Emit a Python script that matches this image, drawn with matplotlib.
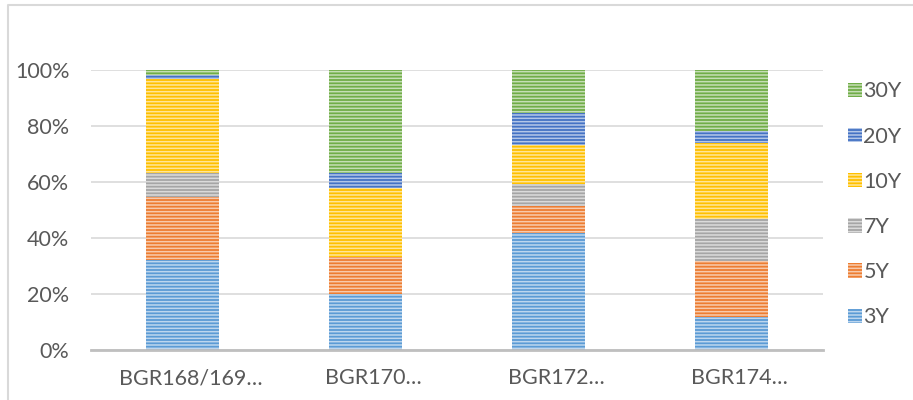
import numpy as np
import matplotlib
matplotlib.use("Agg")
from matplotlib import pyplot as plt
from matplotlib import transforms
from matplotlib.lines import Line2D

plt.rcParams["font.family"] = ["Lato", "DejaVu Sans"]
plt.rcParams["hatch.linewidth"] = 1.1

categories = ["BGR168/169…", "BGR170…", "BGR172…", "BGR174…"]
series = ["3Y", "5Y", "7Y", "10Y", "20Y", "30Y"]
colors = ["#5B9BD5", "#ED7D31", "#A5A5A5", "#FFC000", "#4472C4", "#70AD47"]

# share of each maturity per issue, in percent
y3 = [32.1, 19.9, 41.7, 11.7]
y5 = [22.5, 13.2, 9.7, 20.1]
y7 = [8.6, 0.0, 7.8, 15.1]
y10 = [33.6, 24.6, 14.0, 26.9]
y20 = [1.4, 5.6, 11.3, 4.5]
y30 = [1.8, 36.7, 15.5, 21.7]
values = np.array([y3, y5, y7, y10, y20, y30]) / 100.0

text_color = "#595959"
fs = 15.5

fig = plt.figure(figsize=(9.13, 4.0), dpi=100)
ax = fig.add_axes([91 / 913, 1 - 350 / 400, 732 / 913, 280 / 400])

x = np.arange(len(categories))
bottom = np.zeros(len(categories))
for name, vals, col in zip(series, values, colors):
    ax.bar(x, vals, width=0.4, bottom=bottom, color=col, label=name,
           edgecolor=(1, 1, 1, 0.6), linewidth=0, hatch="-----", zorder=2)
    bottom += vals

ax.set_xlim(-0.5, len(categories) - 0.5)
ax.set_ylim(0, 1.0)
ticks = np.arange(0, 1.01, 0.2)
ax.set_yticks(ticks)
ax.set_yticklabels([f"{int(round(t * 100))}%" for t in ticks])
ax.set_xticks(x)
ax.set_xticklabels(categories)
ax.tick_params(length=0, labelsize=fs, colors=text_color)
ax.tick_params(axis="y", pad=15.5)
ax.tick_params(axis="x", pad=13)

# truncated category names sit a little right of the bar centre
shift = transforms.ScaledTranslation(8 / 100, 0, fig.dpi_scale_trans)
for lbl in ax.get_xticklabels():
    lbl.set_transform(lbl.get_transform() + shift)

ax.grid(axis="y", color="#D9D9D9", linewidth=1.2, zorder=0)
for side in ["top", "right", "left"]:
    ax.spines[side].set_visible(False)
ax.spines["bottom"].set_color("#BFBFBF")
ax.spines["bottom"].set_linewidth(2)
ax.spines["bottom"].set_zorder(3)

handles, labels = ax.get_legend_handles_labels()
leg = ax.legend(handles[::-1], labels[::-1], loc="center left",
                bbox_to_anchor=(1.020, 0.52), frameon=False, fontsize=fs,
                handlelength=0.65, handleheight=0.65, handletextpad=0.05,
                labelspacing=1.17, borderpad=0)
for t in leg.get_texts():
    t.set_color(text_color)

# chart area border (only top and left edges fall inside the image)
fig.add_artist(Line2D([8 / 913, 8 / 913, 1.0], [0.0, 1 - 5 / 400, 1 - 5 / 400],
                      transform=fig.transFigure, color="#D9D9D9", linewidth=1.5))

fig.savefig("out.png", dpi=100)
